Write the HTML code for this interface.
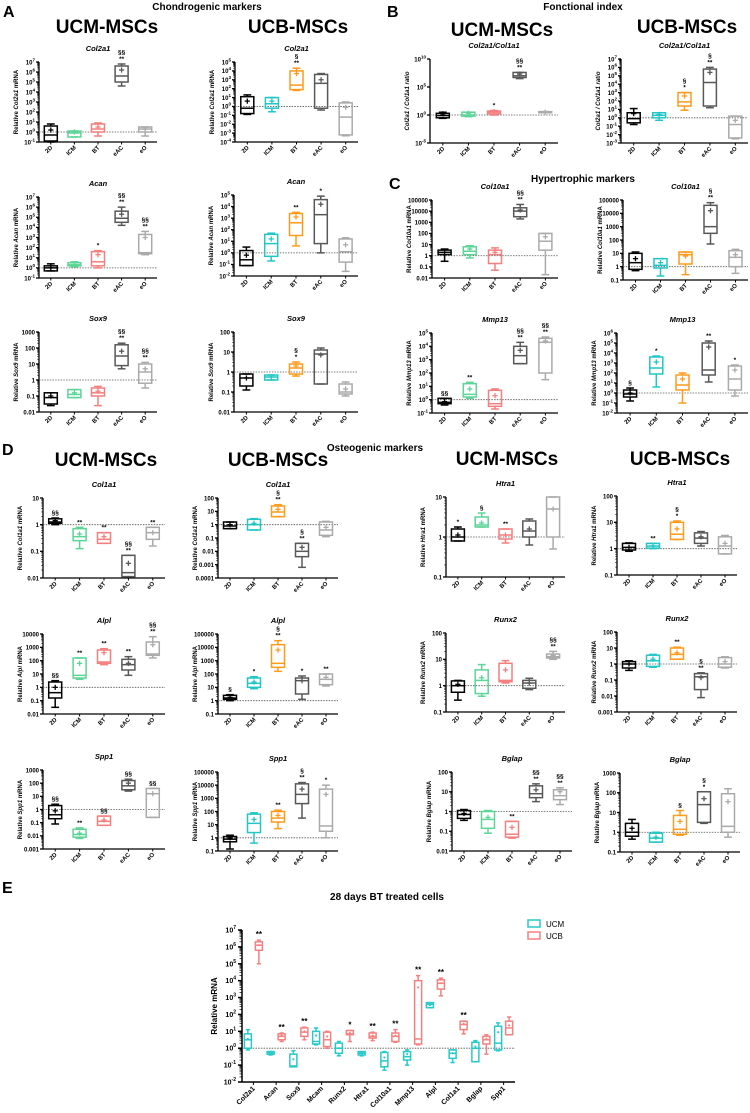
<!DOCTYPE html>
<html><head><meta charset="utf-8">
<style>
html,body{margin:0;padding:0;background:#fff;}
body{width:750px;height:1113px;overflow:hidden;font-family:"Liberation Sans",sans-serif;}
svg{display:block}
text{font-family:"Liberation Sans",sans-serif;}
</style></head>
<body>
<svg id="fig" width="750" height="1113" viewBox="0 0 750 1113" xmlns="http://www.w3.org/2000/svg">
<g font-weight="bold" fill="#000">
<text x="3" y="17" font-size="16">A</text>
<text x="207" y="10" font-size="10" text-anchor="middle">Chondrogenic markers</text>
<text x="107" y="33" font-size="19" text-anchor="middle">UCM-MSCs</text>
<text x="298" y="33" font-size="19" text-anchor="middle">UCB-MSCs</text>
<text x="387" y="17" font-size="16">B</text>
<text x="583" y="10" font-size="10" text-anchor="middle">Fonctional index</text>
<text x="502" y="36" font-size="19" text-anchor="middle">UCM-MSCs</text>
<text x="687" y="33" font-size="19" text-anchor="middle">UCB-MSCs</text>
<text x="389" y="189" font-size="16">C</text>
<text x="583" y="182" font-size="10" text-anchor="middle">Hypertrophic markers</text>
<text x="2" y="455" font-size="16">D</text>
<text x="375" y="451" font-size="10" text-anchor="middle">Osteogenic markers</text>
<text x="106" y="466" font-size="19" text-anchor="middle">UCM-MSCs</text>
<text x="278" y="466" font-size="19" text-anchor="middle">UCB-MSCs</text>
<text x="507" y="465" font-size="19" text-anchor="middle">UCM-MSCs</text>
<text x="680" y="465" font-size="19" text-anchor="middle">UCB-MSCs</text>
<text x="2" y="893" font-size="16">E</text>
<text x="387" y="900" font-size="10" text-anchor="middle">28 days BT treated cells</text>
</g>
</svg>
<script>
// Categories
const groups = ['2D','ICM','BT','eAC','eO'];
const ucmColors = ['#000000','#5cd597','#f47f7f','#585858','#aaaaaa'];
const ucbColors = ['#000000','#22c6c6','#ff9a1a','#585858','#aaaaaa'];
// Box stats in log10 units: [min, q1, median, q3, max, mean]
const col2a1UCM = [[-1,-0.9,-0.3,0.6,0.8,0.2],[-0.5,-0.5,-0.1,0.1,0.1,0],[-0.4,0,0.3,0.8,0.9,0.5],[4.6,5.0,5.6,6.6,6.8,6.2],[-0.4,0,0.3,0.5,0.5,0.3]];
const col2a1UCMAnn = ['','','','§§\n**',''];
const col2a1UCB = [[-0.9,-0.8,-0.2,1.1,1.3,0.6],[-0.6,-0.2,0.3,1.0,1.0,0.6],[1.8,1.9,2.4,4.0,4.3,3.7],[-0.4,-0.2,2.6,3.6,3.7,3.0],[-3.3,-3.2,-1.2,0.4,0.5,-0.1]];
const col2a1UCBAnn = ['','','§\n**','',''];
const acanUCM = [[-0.3,-0.3,0,0.2,0.4,0],[0.1,0.2,0.3,0.5,0.6,0.3],[0,0.2,0.6,1.6,1.7,1.3],[4.2,4.5,4.9,5.6,6.0,5.3],[1.3,1.4,1.5,3.3,3.6,3.0]];
const acanUCMAnn = ['','','*','§§\n**','§§\n**'];
const acanUCB = [[-1.1,-1.1,-0.6,0.2,0.5,-0.2],[-0.7,-0.3,0.8,1.6,1.7,1.2],[0.6,1.5,2.6,3.4,3.5,3.1],[0,0.8,3.3,4.6,4.9,4.2],[-1.6,-0.8,0.1,1.2,1.3,0.7]];
const acanUCBAnn = ['','','**','*',''];
const sox9UCM = [[-1.6,-1.5,-1.1,-0.8,-0.8,-1.0],[-1.1,-1.1,-0.9,-0.6,-0.6,-0.8],[-1.6,-1.0,-0.8,-0.5,-0.4,-0.7],[0.7,0.9,1.5,2.2,2.3,1.8],[-0.5,-0.2,0.5,1.0,1.1,0.7]];
const sox9UCMAnn = ['','','','§§\n**','§§\n**'];
const sox9UCB = [[-0.9,-0.7,-0.3,-0.1,-0.1,-0.3],[-0.4,-0.4,-0.25,-0.15,-0.15,-0.25],[-0.2,-0.1,0.2,0.4,0.5,0.3],[-0.6,-0.6,0.9,1.1,1.2,0.85],[-1.2,-1.1,-1.0,-0.6,-0.5,-0.85]];
const sox9UCBAnn = ['','','§\n*','',''];
const ratioUCM = [[-0.6,-0.5,-0.1,0.3,0.5,0.2],[-0.3,-0.2,0,0.5,0.5,0.3],[0,0.2,0.5,0.7,0.8,0.6],[6.5,6.7,7.0,7.6,7.6,7.3],[0.4,0.4,0.5,0.6,0.6,0.5]];
const ratioUCMAnn = ['','','*','§§\n**',''];
const ratioUCB = [[-0.8,-0.6,-0.1,0.6,1.1,0.5],[-0.3,0,0.3,0.6,0.6,0.4],[0.9,1.4,1.9,3.0,3.0,2.6],[1.2,1.4,4.2,5.8,6.0,5.4],[-2.5,-2.4,-0.8,0.2,0.2,-0.3]];
const ratioUCBAnn = ['','','§\n*','§\n**',''];
const col10a1UCM = [[-0.5,0.1,0.3,0.5,0.6,0.3],[-0.2,0.1,0.4,0.8,0.9,0.6],[-1.3,-0.7,0.1,0.5,0.7,0.3],[3.3,3.5,4.0,4.3,4.6,4.1],[-1.7,0.5,1.3,2.0,2.0,1.7]];
const col10a1UCMAnn = ['','','','§§\n**',''];
const col10a1UCB = [[-0.3,-0.2,0.3,1.0,1.1,0.6],[-0.7,-0.1,0.1,0.6,0.6,0.3],[-0.6,0.2,0.9,1.1,1.1,0.8],[1.7,2.5,3.0,4.6,4.8,4.2],[-0.5,0,0.7,1.2,1.3,0.9]];
const col10a1UCBAnn = ['','','','§\n**',''];
const mmp13UCM = [[-0.4,-0.3,-0.2,0.1,0.1,-0.15],[0.1,0.2,0.4,1.2,1.3,0.8],[-0.7,-0.5,-0.3,0.7,0.8,0.3],[2.7,2.7,3.3,4.0,4.3,3.7],[1.5,2.0,4.3,4.6,4.7,4.4]];
const mmp13UCMAnn = ['§§','**','','§§\n**','§§\n**'];
const mmp13UCB = [[-0.8,-0.4,-0.1,0.3,0.5,0],[0.6,1.9,2.5,3.6,3.7,3.1],[-1.0,0.3,0.8,1.8,2.0,1.4],[1.1,1.8,2.3,5.0,5.2,4.6],[-0.3,0.3,1.4,2.7,2.8,2.3]];
const mmp13UCBAnn = ['§','*','','**','*'];
const col1a1UCM = [[0,0.05,0.1,0.22,0.25,0.15],[-0.9,-0.6,-0.45,-0.15,-0.1,-0.35],[-0.7,-0.7,-0.55,-0.3,-0.3,-0.45],[-1.95,-1.95,-1.8,-1.15,-1.15,-1.45],[-0.8,-0.55,-0.3,-0.1,-0.1,-0.3]];
const col1a1UCMAnn = ['§§','**','**','§§\n**','**'];
const col1a1UCB = [[-0.3,-0.3,-0.1,0.2,0.2,0],[-0.4,-0.4,0,0.4,0.45,0.1],[0.6,0.6,0.95,1.4,1.5,1.15],[-3.2,-2.4,-2,-1.4,-1.4,-1.7],[-0.9,-0.8,-0.4,0.2,0.25,-0.2]];
const col1a1UCBAnn = ['','','§\n**','§\n**',''];
const alplUCM = [[-1.5,-0.8,-0.4,0.4,0.5,0],[0.6,0.7,0.9,2.2,2.2,1.8],[1.7,1.8,1.9,2.8,2.9,2.6],[0.9,1.3,1.7,2.1,2.3,1.8],[2.2,2.4,2.5,3.4,3.8,3.2]];
const alplUCMAnn = ['§§','**','**','**','§§\n**'];
const alplUCB = [[0,0.1,0.2,0.4,0.45,0.25],[0.9,1.0,1.3,1.7,1.8,1.4],[2.2,2.5,2.8,4.2,4.5,3.8],[0.1,0.5,1.5,1.7,1.85,1.5],[1.1,1.2,1.6,2,2,1.75]];
const alplUCBAnn = ['§','*','§\n**','*','**'];
const spp1UCM = [[-1.1,-0.7,-0.4,0.3,0.4,-0.1],[-2.2,-2.1,-1.9,-1.5,-1.4,-1.8],[-1.2,-1.2,-0.9,-0.5,-0.5,-0.8],[1.4,1.5,1.8,2.2,2.3,2.0],[-0.6,-0.6,1.2,1.6,1.6,1.2]];
const spp1UCMAnn = ['§§','**','§§','§§','§§'];
const spp1UCB = [[-0.85,-0.3,-0.1,0.1,0.2,0],[-0.4,0.4,1.1,1.8,1.9,1.4],[0.7,1.2,1.5,2,2.1,1.7],[1.5,2.6,3.3,4.1,4.2,3.7],[0,0.5,0.9,3.7,4.0,3.3]];
const spp1UCBAnn = ['','','**','§\n**','*'];
const htra1UCM = [[-0.1,-0.1,0,0.2,0.25,0.05],[0.25,0.25,0.3,0.5,0.6,0.35],[-0.15,-0.05,0.05,0.2,0.2,0.05],[-0.2,0,0.15,0.4,0.45,0.2],[-0.3,0,0.7,1,1,0.7]];
const htra1UCMAnn = ['*','§','**','',''];
const htra1UCB = [[-0.1,-0.05,0.05,0.2,0.22,0.05],[0,0.02,0.1,0.2,0.2,0.1],[0.35,0.35,0.55,1,1.05,0.75],[0.1,0.2,0.4,0.6,0.65,0.45],[-0.2,-0.2,0.1,0.45,0.5,0.2]];
const htra1UCBAnn = ['','**','§\n*','',''];
const runx2UCM = [[-0.55,-0.25,0,0.18,0.2,0.05],[-0.4,-0.3,0.2,0.6,0.8,0.3],[0.1,0.15,0.2,0.85,0.95,0.6],[-0.15,-0.1,0.1,0.2,0.28,0.1],[1,1.05,1.1,1.2,1.3,1.15]];
const runx2UCMAnn = ['','','','','§§\n**'];
const runx2UCB = [[-0.4,-0.25,0,0.15,0.2,0],[-0.2,-0.15,0.2,0.55,0.6,0.3],[0.3,0.3,0.6,1.0,1.05,0.7],[-2.1,-1.6,-0.8,-0.6,-0.55,-0.85],[-0.25,-0.2,0,0.4,0.45,0.15]];
const runx2UCBAnn = ['','','**','§\n**',''];
const bglapUCM = [[-0.45,-0.35,-0.15,0.05,0.1,-0.1],[-1.1,-0.85,-0.4,0,0.05,-0.3],[-1.35,-1.3,-1.15,-0.5,-0.5,-0.8],[0.5,0.7,0.9,1.3,1.4,1.1],[0.35,0.6,0.8,1.1,1.2,1.0]];
const bglapUCMAnn = ['','','**','§§\n**','§§\n**'];
const bglapUCB = [[-0.35,-0.2,0,0.45,0.65,0.2],[-0.5,-0.5,-0.3,-0.05,0,-0.25],[-0.15,-0.1,0.15,0.85,1.1,0.55],[0.45,0.5,1.4,2.05,2.05,1.7],[-0.25,0,0.3,1.95,2.2,1.55]];
const bglapUCBAnn = ['','','§','§\n*',''];
// Panel E
const eGenes = ['Col2a1','Acan','Sox9','Mcam','Runx2','Htra1','Col10a1','Mmp13','Alpl','Col1a1','Bglap','Spp1'];
const eUCM = [[-0.1,0,0.5,0.85,1.1,0.55],[-0.4,-0.35,-0.3,-0.2,-0.2,-0.3],[-1.1,-1.1,-1.05,-0.35,-0.15,-0.65],[0.2,0.25,0.4,1.0,1.2,0.75],[-0.45,-0.3,0,0.3,0.4,0],[-0.45,-0.4,-0.3,-0.2,-0.2,-0.3],[-1.3,-1.1,-0.75,-0.25,-0.2,-0.55],[-1,-0.7,-0.5,-0.2,-0.1,-0.35],[2.4,2.4,2.6,2.7,2.7,2.55],[-0.85,-0.6,-0.3,-0.1,-0.1,-0.3],[-0.8,-0.8,0,0.35,0.45,0.1],[-0.15,-0.1,0.3,1.3,1.5,0.95]];
const eUCB = [[5,5.8,6.1,6.3,6.4,6.1],[0.4,0.5,0.7,0.85,0.9,0.75],[0.5,0.7,0.95,1.2,1.25,1.0],[0,0.1,0.5,0.95,1,0.7],[0.4,0.8,0.85,1.05,1.05,0.9],[0.45,0.6,0.7,0.9,0.95,0.75],[0.35,0.4,0.7,0.9,1.1,0.75],[0.2,0.25,0.55,4,4.3,3.6],[3.1,3.5,3.85,4.05,4.15,3.85],[0.85,1.1,1.4,1.6,1.6,1.45],[-0.35,0.25,0.5,0.7,0.8,0.55],[0.8,0.8,1.2,1.6,1.85,1.35]];
const eAnn = ['**','**','**','','*','**','**','**','**','**','',''];
const eTicks = [-2,-1,0,1,2,3,4,5,6,7];

const NS='http://www.w3.org/2000/svg';
const fig=document.getElementById('fig');
function mk(tag,attrs,parent){const e=document.createElementNS(NS,tag);for(const k in attrs)e.setAttribute(k,attrs[k]);(parent||fig).appendChild(e);return e;}
function decLabel(e){const v=Math.pow(10,e);return e<0?v.toFixed(-e):String(Math.round(v));}
function tickText(g,x,y,e,fmt){
  const t=mk('text',{x:x,y:y+2.3,'font-size':6,'font-weight':'bold','text-anchor':'end'},g);
  
  
  if(fmt==='dec'){t.textContent=decLabel(e);}
  else{t.textContent='10';const s=mk('tspan',{dy:-3,'font-size':4.5},t);s.textContent=String(e);}
}
function drawBox(g,cx,w,st,col,yf,markSize){
  const [mn,q1,md,q3,mx,mean]=st;
  const b=mk('g',{stroke:col,fill:'none','stroke-width':1.5},g);
  
  
  mk('line',{x1:cx,x2:cx,y1:yf(mx),y2:yf(q3)},b);
  mk('line',{x1:cx,x2:cx,y1:yf(q1),y2:yf(mn)},b);
  mk('line',{x1:cx-w*0.3,x2:cx+w*0.3,y1:yf(mx),y2:yf(mx)},b);
  mk('line',{x1:cx-w*0.3,x2:cx+w*0.3,y1:yf(mn),y2:yf(mn)},b);
  mk('rect',{x:cx-w/2,y:yf(q3),width:w,height:Math.max(0.5,yf(q1)-yf(q3))},b);
  mk('line',{x1:cx-w/2,x2:cx+w/2,y1:yf(md),y2:yf(md)},b);
  const m=markSize;
  mk('line',{x1:cx-m,x2:cx+m,y1:yf(mean),y2:yf(mean),'stroke-width':1.3},b);
  mk('line',{x1:cx,x2:cx,y1:yf(mean)-m,y2:yf(mean)+m,'stroke-width':1.3},b);
}
function annot(g,cx,y,txt,size){
  const lines=txt.split('\n');
  lines.forEach((l,i)=>{
    const t=mk('text',{x:cx,y:y-3-(lines.length-1-i)*6.5,'font-size':size,'font-weight':'bold','text-anchor':'middle'},g);
    
    
    t.textContent=l;
  });
}
function panel(name,ax,top,bottom,xEnd,lo,hi,step,fmt,gene,ylab,stats,colors,ann){
  const g=mk('g',{});
  
  
  const yf=v=>bottom-(v-lo)/(hi-lo)*(bottom-top);
  const bw=(xEnd-ax)/groups.length;
  const xf=i=>ax+bw*(i+0.5);
  // title
  const tt=mk('text',{x:(ax+xEnd)/2,y:top-11,'font-size':7.5,'font-weight':'bold','font-style':'italic','text-anchor':'middle'},g);
  
  
  tt.textContent=gene;
  // y label
  const yl=mk('text',{x:0,y:0,'font-size':6,'font-weight':'bold','text-anchor':'middle',transform:`translate(${ax-21},${(top+bottom)/2}) rotate(-90)`},g);
  
  
  if(ylab==='ratio'){const a=mk('tspan',{'font-style':'italic'},yl);a.textContent='Col2a1 / Col1a1 ratio';}
  else{const a=mk('tspan',{},yl);a.textContent='Relative ';const b=mk('tspan',{'font-style':'italic'},yl);b.textContent=ylab;const c=mk('tspan',{},yl);c.textContent=' mRNA';}
  // axes
  const axg=mk('g',{stroke:'#000','stroke-width':1.3},g);
  
  
  mk('line',{x1:ax,x2:ax,y1:top,y2:bottom},axg);
  mk('line',{x1:ax,x2:xEnd,y1:bottom,y2:bottom},axg);
  for(let e=lo;e<=hi;e+=step){
    mk('line',{x1:ax-3,x2:ax,y1:yf(e),y2:yf(e)},axg);
    tickText(g,ax-4,yf(e),e,fmt);
    if(step===1&&e<hi){for(let k=2;k<10;k++){const v=e+Math.log10(k);mk('line',{x1:ax-1.8,x2:ax,y1:yf(v),y2:yf(v),'stroke-width':0.6},axg);}}
  }
  // dashed reference line at 1
  const ref=mk('line',{x1:ax,x2:xEnd,y1:yf(0),y2:yf(0),stroke:'#555','stroke-width':0.8,'stroke-dasharray':'1.5,1.2'},g);
  
  
  groups.forEach((c,i)=>{
    mk('line',{x1:xf(i),x2:xf(i),y1:bottom,y2:bottom+2.5,stroke:'#000','stroke-width':1},g);
    const t=mk('text',{x:0,y:0,'font-size':6,'font-weight':'bold','text-anchor':'end',transform:`translate(${xf(i)+2},${bottom+6}) rotate(-45)`},g);
    
    
    t.textContent=c;
    drawBox(g,xf(i),Math.min(13,bw*0.56),stats[i],colors[i],yf,2.6);
    if(ann[i])annot(g,xf(i),yf(stats[i][4]),ann[i],6.5);
  });
}
// Panel A
panel('col2a1-ucm-chart',39,62,142,157,-1,7,1,'exp','Col2a1','Col2a1',col2a1UCM,ucmColors,col2a1UCMAnn);
panel('col2a1-ucb-chart',235,62,142,358,-4,5,1,'exp','Col2a1','Col2a1',col2a1UCB,ucbColors,col2a1UCBAnn);
panel('acan-ucm-chart',39,197,278,157,-1,7,1,'exp','Acan','Acan',acanUCM,ucmColors,acanUCMAnn);
panel('acan-ucb-chart',234,195,276,358,-2,5,1,'exp','Acan','Acan',acanUCB,ucbColors,acanUCBAnn);
panel('sox9-ucm-chart',39,332,412,157,-2,3,1,'dec','Sox9','Sox9',sox9UCM,ucmColors,sox9UCMAnn);
panel('sox9-ucb-chart',234,332,412,358,-2,2,1,'dec','Sox9','Sox9',sox9UCB,ucbColors,sox9UCBAnn);
// Panel B
panel('ratio-ucm-chart',430,59,143,558,-5,10,5,'exp','Col2a1/Col1a1','ratio',ratioUCM,ucmColors,ratioUCMAnn);
panel('ratio-ucb-chart',621,59,143,748,-3,7,1,'exp','Col2a1/Col1a1','ratio',ratioUCB,ucbColors,ratioUCBAnn);
// Panel C
panel('col10a1-ucm-chart',432,200,278,558,-2,5,1,'dec','Col10a1','Col10a1',col10a1UCM,ucmColors,col10a1UCMAnn);
panel('col10a1-ucb-chart',623,200,280,748,-1,5,1,'dec','Col10a1','Col10a1',col10a1UCB,ucbColors,col10a1UCBAnn);
panel('mmp13-ucm-chart',432,333,413,558,-1,5,1,'exp','Mmp13','Mmp13',mmp13UCM,ucmColors,mmp13UCMAnn);
panel('mmp13-ucb-chart',617,333,413,748,-2,6,1,'exp','Mmp13','Mmp13',mmp13UCB,ucbColors,mmp13UCBAnn);
// Panel D
panel('col1a1-ucm-chart',43,498,578,165,-2,1,1,'dec','Col1a1','Col1a1',col1a1UCM,ucmColors,col1a1UCMAnn);
panel('col1a1-ucb-chart',218,498,578,338,-4,2,1,'dec','Col1a1','Col1a1',col1a1UCB,ucbColors,col1a1UCBAnn);
panel('alpl-ucm-chart',43,634,714,165,-2,4,1,'dec','Alpl','Alpl',alplUCM,ucmColors,alplUCMAnn);
panel('alpl-ucb-chart',218,634,714,338,-1,5,1,'dec','Alpl','Alpl',alplUCB,ucbColors,alplUCBAnn);
panel('spp1-ucm-chart',43,770,849,165,-3,3,1,'dec','Spp1','Spp1',spp1UCM,ucmColors,spp1UCMAnn);
panel('spp1-ucb-chart',218,772,851,338,-1,5,1,'dec','Spp1','Spp1',spp1UCB,ucbColors,spp1UCBAnn);
panel('htra1-ucm-chart',446,497,577,565,-1,1,1,'dec','Htra1','Htra1',htra1UCM,ucmColors,htra1UCMAnn);
panel('htra1-ucb-chart',617,496,575,737,-1,2,1,'dec','Htra1','Htra1',htra1UCB,ucbColors,htra1UCBAnn);
panel('runx2-ucm-chart',446,633,712,565,-1,2,1,'dec','Runx2','Runx2',runx2UCM,ucmColors,runx2UCMAnn);
panel('runx2-ucb-chart',617,632,712,737,-3,2,1,'dec','Runx2','Runx2',runx2UCB,ucbColors,runx2UCBAnn);
panel('bglap-ucm-chart',452,772,851,572,-2,2,1,'dec','Bglap','Bglap',bglapUCM,ucmColors,bglapUCMAnn);
panel('bglap-ucb-chart',620,773,852,740,-1,3,1,'dec','Bglap','Bglap',bglapUCB,ucbColors,bglapUCBAnn);

// Panel E
(function(){
  const ax=242,top=930,bottom=1082,xEnd=515,lo=-2,hi=7;
  const g=mk('g',{});
  
  
  const yf=v=>bottom-(v-lo)/(hi-lo)*(bottom-top);
  const bw=(xEnd-ax)/eGenes.length;
  const xf=i=>ax+bw*(i+0.5);
  const axg=mk('g',{stroke:'#000','stroke-width':1.5},g);
  
  
  mk('line',{x1:ax,x2:ax,y1:top,y2:bottom},axg);
  mk('line',{x1:ax,x2:xEnd,y1:bottom,y2:bottom},axg);
  eTicks.forEach(e=>{
    mk('line',{x1:ax-4,x2:ax,y1:yf(e),y2:yf(e)},axg);
    const t=mk('text',{x:ax-6,y:yf(e)+2.5,'font-size':7,'font-weight':'bold','text-anchor':'end'},g);
    
    
    t.textContent='10';const s=mk('tspan',{dy:-3.5,'font-size':5},t);s.textContent=String(e);
    if(e<hi){for(let k=2;k<10;k++){const v=e+Math.log10(k);mk('line',{x1:ax-2.5,x2:ax,y1:yf(v),y2:yf(v),'stroke-width':0.7},axg);}}
  });
  const yl=mk('text',{x:0,y:0,'font-size':8,'font-weight':'bold','text-anchor':'middle',transform:`translate(${ax-25},${(top+bottom)/2}) rotate(-90)`},g);
  
  
  yl.textContent='Relative mRNA';
  const ref=mk('line',{x1:ax,x2:xEnd,y1:yf(0),y2:yf(0),stroke:'#555','stroke-width':0.9,'stroke-dasharray':'1.5,1.2'},g);
  
  
  eGenes.forEach((gn,i)=>{
    mk('line',{x1:xf(i),x2:xf(i),y1:bottom,y2:bottom+3,stroke:'#000','stroke-width':1},g);
    const t=mk('text',{x:0,y:0,'font-size':7,'font-weight':'bold','text-anchor':'end',transform:`translate(${xf(i)+2},${bottom+7}) rotate(-45)`},g);
    
    
    t.textContent=gn;
    drawBox(g,xf(i)-5.5,7,eUCM[i],'#27c9c9',yf,1);
    drawBox(g,xf(i)+5.5,7,eUCB[i],'#f58080',yf,1);
    if(eAnn[i])annot(g,xf(i)+5.5,yf(eUCB[i][4]),eAnn[i],8);
  });
  const lg=mk('g',{},g);
  
  
  [['UCM','#27c9c9'],['UCB','#f58080']].forEach((d,i)=>{
    const r=mk('rect',{x:528,y:920+i*12,width:12,height:7,fill:'none',stroke:d[1],'stroke-width':1.5},lg);
    
    
    const t=mk('text',{x:546,y:927+i*12,'font-size':8},lg);
    
    
    t.textContent=d[0];
  });
})();
</script>
</body></html>
